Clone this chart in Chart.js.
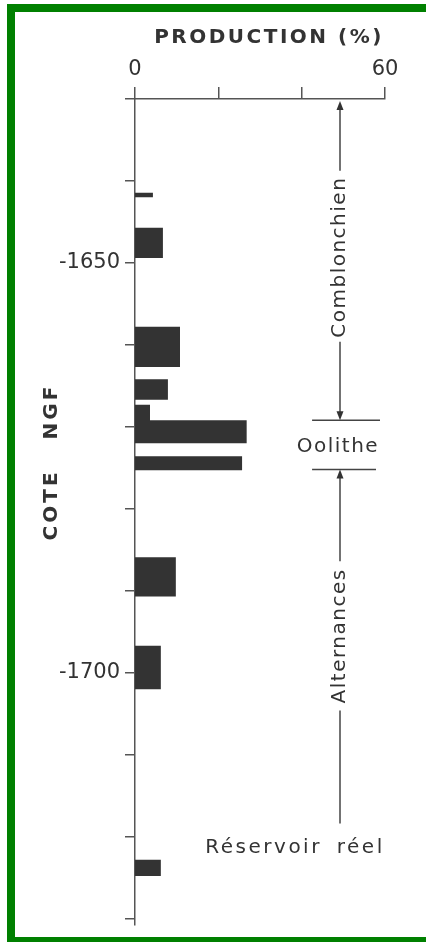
<!DOCTYPE html>
<html>
<head>
<meta charset="utf-8">
<script src="https://cdn.jsdelivr.net/npm/chart.js@4.4.0/dist/chart.umd.min.js"></script>
<style>
  html, body { margin: 0; padding: 0; background: #fff; overflow: hidden; }
  #wrap { position: relative; width: 426px; height: 942px; overflow: hidden; background: #fff; }
  #graf { position: absolute; left: 0; top: 0; }
  #marco { position: absolute; left: 7px; top: 4px; width: 480px; height: 941px; box-sizing: border-box; border: 8px solid #008000; pointer-events: none; }
</style>
</head>
<body>
<div id="wrap">
  <canvas id="graf" width="426" height="942"></canvas>
  <div id="marco"></div>
</div>
<script>
// --- Niveaux producteurs : cote NGF du toit et de la base (m), production (%) ---
const coteHaut = [-1641.4, -1645.7, -1657.8, -1664.2, -1667.3, -1669.2, -1673.6, -1685.9, -1696.7, -1722.8];
const coteBas = [-1642.0, -1649.4, -1662.7, -1666.7, -1669.2, -1672.0, -1675.3, -1690.7, -1702.0, -1724.8];
const production = [4.3, 6.7, 10.8, 7.9, 3.6, 26.8, 25.7, 9.8, 6.2, 6.2];

// --- Axes ---
const xEtiquettes = [0, 60];
const yEtiquettes = [-1650, -1700];

// --- Formations (cotes NGF) ---
const zones = ['Comblonchien', 'Oolithe', 'Alternances'];
const zoneHaut = [-1630, -1669.2, -1675.2];
const zoneBas = [-1669.2, -1675.2, -1718.4];
const zoneTexte = [-1649.3, -1672.4, -1695.5];

// points du contour des barres (remplis jusqu'à x = 0)
const contour = [];
production.forEach((v, i) => {
    contour.push({ x: 0, y: coteHaut[i] }, { x: v, y: coteHaut[i] },
                 { x: v, y: coteBas[i] }, { x: 0, y: coteBas[i] });
});

function fleche(ctx, x, yPointe, sens) {
    // sens = -1 vers le haut, 1 vers le bas
    ctx.beginPath();
    ctx.moveTo(x, yPointe);
    ctx.lineTo(x - 3.5, yPointe - sens * 9);
    ctx.lineTo(x + 3.5, yPointe - sens * 9);
    ctx.closePath();
    ctx.fill();
}

function ligne(ctx, x1, y1, x2, y2) {
    ctx.beginPath();
    ctx.moveTo(x1, y1);
    ctx.lineTo(x2, y2);
    ctx.stroke();
}

const annotations = {
    id: 'annotations',
    afterDraw(chart) {
        const { ctx, scales: { x, y }, chartArea } = chart;
        const xc = x.getPixelForValue(49.2);
        ctx.save();
        ctx.strokeStyle = '#444';
        ctx.fillStyle = '#333';
        ctx.lineWidth = 1.5;

        // titres
        ctx.font = 'bold 20px "DejaVu Sans"';
        ctx.letterSpacing = '2.5px';
        ctx.textAlign = 'center';
        ctx.textBaseline = 'alphabetic';
        ctx.fillText('PRODUCTION (%)', (chartArea.left + chartArea.right) / 2 + 9, 43);

        ctx.save();
        ctx.translate(52, 462);
        ctx.rotate(-Math.PI / 2);
        ctx.letterSpacing = '3px';
        ctx.wordSpacing = '20px';
        ctx.textBaseline = 'middle';
        ctx.fillText('COTE NGF', 0, 0);
        ctx.restore();

        ctx.font = '20px "DejaVu Sans"';
        ctx.letterSpacing = '1.5px';
        ctx.textBaseline = 'middle';

        // Comblonchien
        let haut = y.getPixelForValue(zoneHaut[0]) + 2;
        let bas = y.getPixelForValue(zoneBas[0]);
        let yt = y.getPixelForValue(zoneTexte[0]);
        let w = ctx.measureText(zones[0]).width;
        ligne(ctx, xc, haut + 6, xc, yt - w / 2 - 6);
        ligne(ctx, xc, yt + w / 2 + 4, xc, bas - 6);
        fleche(ctx, xc, haut, -1);
        fleche(ctx, xc, bas, 1);
        ctx.save();
        ctx.translate(xc, yt);
        ctx.rotate(-Math.PI / 2);
        ctx.fillText(zones[0], 0, 0);
        ctx.restore();

        // Oolithe
        const xg = x.getPixelForValue(42.5);
        const xd = x.getPixelForValue(58.8);
        ligne(ctx, xg, y.getPixelForValue(zoneHaut[1]), xd, y.getPixelForValue(zoneHaut[1]));
        ligne(ctx, xg, y.getPixelForValue(zoneBas[1]), xd - 4, y.getPixelForValue(zoneBas[1]));
        ctx.fillText(zones[1], x.getPixelForValue(48.7), y.getPixelForValue(zoneTexte[1]));

        // Alternances
        haut = y.getPixelForValue(zoneHaut[2]);
        bas = y.getPixelForValue(zoneBas[2]);
        yt = y.getPixelForValue(zoneTexte[2]);
        w = ctx.measureText(zones[2]).width;
        ligne(ctx, xc, haut + 6, xc, yt - w / 2 - 7);
        ligne(ctx, xc, yt + w / 2 + 7, xc, bas);
        fleche(ctx, xc, haut, -1);
        ctx.save();
        ctx.translate(xc, yt);
        ctx.rotate(-Math.PI / 2);
        ctx.fillText(zones[2], 0, 0);
        ctx.restore();

        // Réservoir réel
        ctx.letterSpacing = '2.5px';
        ctx.wordSpacing = '6px';
        ctx.fillText('Réservoir réel', x.getPixelForValue(38.4), y.getPixelForValue(-1721.4));
        ctx.restore();
    }
};

new Chart(document.getElementById('graf'), {
    type: 'line',
    data: {
        datasets: [{
            data: contour,
            fill: 'origin',
            backgroundColor: '#333',
            borderColor: 'rgba(0,0,0,0)',
            borderWidth: 0,
            pointRadius: 0,
            tension: 0
        }]
    },
    options: {
        responsive: false,
        animation: false,
        events: [],
        indexAxis: 'y',
        layout: { padding: { left: 0, top: 0, right: 41, bottom: 9 } },
        plugins: { legend: { display: false }, tooltip: { enabled: false } },
        scales: {
            x: {
                type: 'linear',
                position: 'top',
                min: 0,
                max: 60,
                afterFit: (s) => { s.height = 99; },
                ticks: {
                    stepSize: 20,
                    autoSkip: false,
                    maxRotation: 0,
                    padding: 5,
                    color: '#333',
                    font: { family: 'DejaVu Sans', size: 21 },
                    callback: (v) => xEtiquettes.includes(v) ? String(v) : ''
                },
                grid: { drawOnChartArea: false, tickLength: 12, color: '#555', lineWidth: 1.5 },
                border: { display: true, color: '#555', width: 1.5 }
            },
            y: {
                type: 'linear',
                min: -1730.7,
                max: -1630,
                afterFit: (s) => { s.width = 135; },
                ticks: {
                    stepSize: 10,
                    includeBounds: false,
                    autoSkip: false,
                    padding: 5,
                    color: '#333',
                    font: { family: 'DejaVu Sans', size: 21 },
                    callback: (v) => yEtiquettes.includes(v) ? String(v) : ''
                },
                grid: { drawOnChartArea: false, tickLength: 10, color: '#555', lineWidth: 1.5 },
                border: { display: true, color: '#555', width: 1.5 }
            }
        }
    },
    plugins: [annotations]
});
</script>
</body>
</html>
